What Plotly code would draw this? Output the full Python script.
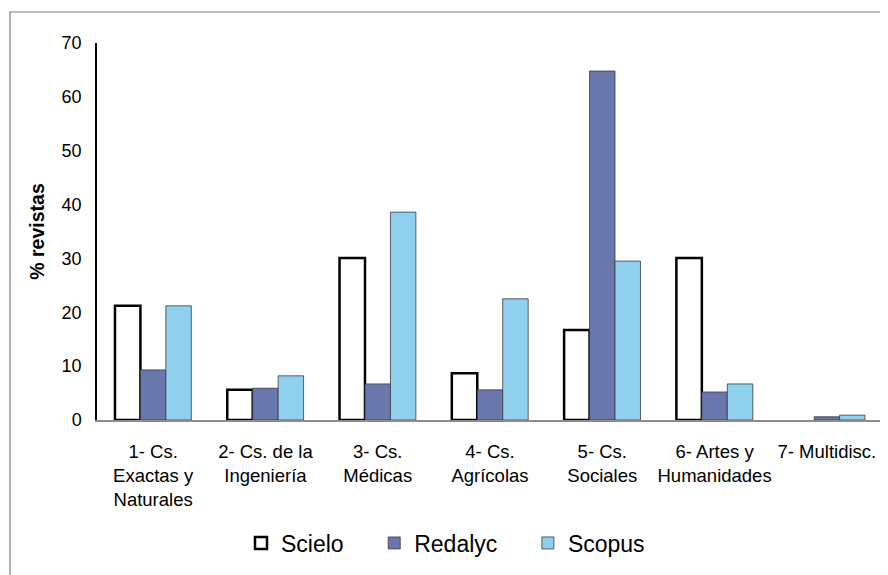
import plotly.graph_objects as go

categories = ["1- Cs.<br>Exactas y<br>Naturales", "2- Cs. de la<br>Ingeniería", "3- Cs.<br>Médicas",
              "4- Cs.<br>Agrícolas", "5- Cs.<br>Sociales", "6- Artes y<br>Humanidades", "7- Multidisc."]
series_names = ["Scielo", "Redalyc", "Scopus"]
scielo = [21.2, 5.6, 30.1, 8.7, 16.7, 30.1, None]
redalyc = [9.3, 5.9, 6.7, 5.6, 64.8, 5.2, 0.6]
scopus = [21.2, 8.2, 38.6, 22.5, 29.5, 6.7, 0.9]
y_ticks = [0, 10, 20, 30, 40, 50, 60, 70]

SP = "\u00a0" * 4
fig = go.Figure()
fig.add_trace(go.Bar(name=series_names[0] + SP, x=categories, y=scielo,
                     marker=dict(color="white", line=dict(color="black", width=2.5))))
fig.add_trace(go.Bar(name=series_names[1] + SP, x=categories, y=redalyc,
                     marker=dict(color="#6A77AD", line=dict(color="#3a3a3a", width=0.8))))
fig.add_trace(go.Bar(name=series_names[2], x=categories, y=scopus,
                     marker=dict(color="#8FD0EE", line=dict(color="#3a3a3a", width=0.8))))

# page body has an 8px margin; work in screen pixels and shift
OFF = 8
W, H = 888 - OFF, 575 - OFF
L, T = 97 - OFF, 43 - OFF
R = W - (883 - OFF)
B = H - (420 - OFF)
pw, ph = W - L - R, H - T - B

def px(x):
    return (x - OFF - L) / pw

def py(y):
    return (H - B - (y - OFF)) / ph

fig.add_shape(type="rect", xref="paper", yref="paper",
              x0=px(10), x1=px(885), y0=py(12), y1=py(590),
              line=dict(color="#7f7f7f", width=1.2), fillcolor="rgba(0,0,0,0)", layer="below")

fig.update_layout(
    width=W, height=H,
    margin=dict(l=L, r=R, t=T, b=B),
    paper_bgcolor="white", plot_bgcolor="white",
    barmode="group", bargap=0.32, bargroupgap=0,
    font=dict(family="Liberation Sans, Arial, sans-serif", color="black"),
    showlegend=True,
    legend=dict(orientation="h", x=px(241), xanchor="left", y=py(543), yanchor="middle",
                font=dict(size=23), itemwidth=30, traceorder="normal",
                bgcolor="rgba(0,0,0,0)"),
    xaxis=dict(showline=True, linecolor="#8c8c8c", linewidth=1.5, ticks="",
               tickfont=dict(size=18.5), showgrid=False, ticklabelstandoff=14),
    yaxis=dict(range=[0, 70], tickvals=y_ticks, showline=True, linecolor="black", linewidth=1.5,
               ticks="", showgrid=False, zeroline=False, tickfont=dict(size=18),
               ticklabelstandoff=10,
               title=dict(text="<b>% revistas</b>", font=dict(size=19.5), standoff=12)),
)

fig.write_html("out.html")
